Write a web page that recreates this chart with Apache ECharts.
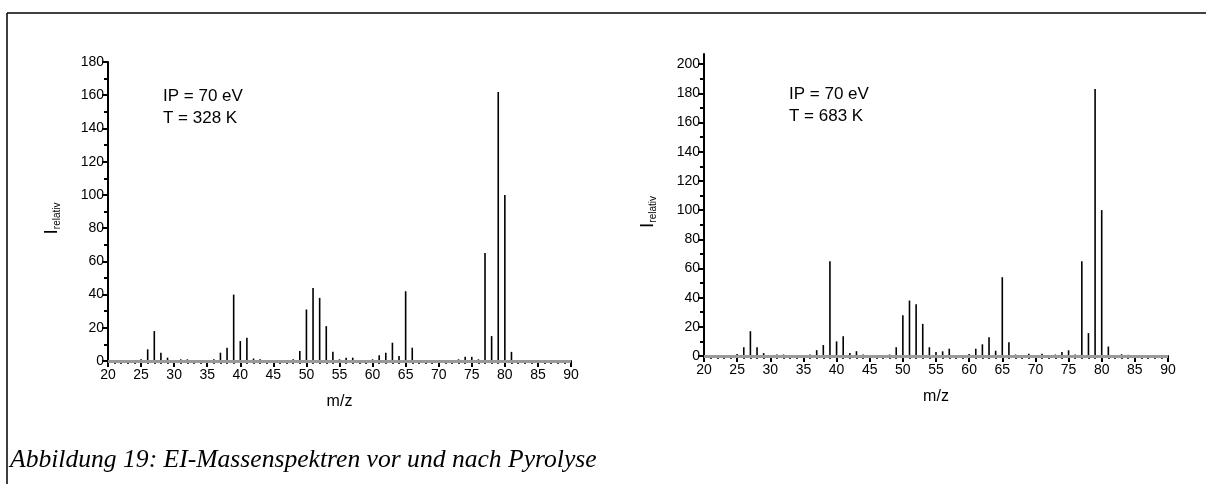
<!DOCTYPE html>
<html>
<head>
<meta charset="utf-8">
<script src="https://cdn.jsdelivr.net/npm/echarts@6/dist/echarts.min.js"></script>
<style>
html,body{margin:0;padding:0;background:#fff;}
#c{width:1206px;height:484px;}
</style>
</head>
<body>
<div id="c"></div>
<script>
// ---- data (m/z and relative intensity) ----
const mzBefore  = [25,26,27,28,29,31,32,36,37,38,39,40,41,42,43,48,49,50,51,52,53,54,55,56,57,60,61,62,63,64,65,66,67,73,74,75,76,77,78,79,80,81,82,84,86];
const intBefore = [1,7,18,5,2,1,1,1,5,8,40,12,14,1.5,1,1,6,31,44,38,21,5.5,1,2,2,1,3.5,5,11,3,42,8,0.5,1,2.5,2.5,1,65,15,162,100,5.5,0.5,0.5,0.5];

const mzAfter  = [24,25,26,27,28,29,31,32,36,37,38,39,40,41,42,43,44,45,47,48,49,50,51,52,53,54,55,56,57,58,59,60,61,62,63,64,65,66,67,69,71,73,74,75,76,77,78,79,80,81,83,84,85,86,87];
const intAfter = [0.5,1.4,6,17,6,2,1,1,1,4,7.5,65,10,13.5,2,3.3,1,0.5,0.5,1,6,28,38,35.5,22,6,2.7,3.2,5,0.5,0.5,1.4,5,8,12.8,3.6,54,9.4,1,1.5,1.5,1,2.7,3.9,1,65,15.7,183,100,6.5,1.2,0.8,0.7,0.5,0.5];

const xTicks = [20,25,30,35,40,45,50,55,60,65,70,75,80,85,90];
const yTicksBefore = [0,20,40,60,80,100,120,140,160,180];
const yTicksAfter = [0,20,40,60,80,100,120,140,160,180,200];
const yMinorAfter = [10,30,50,70,90,110,130,150,170,190];

const textBefore = ['IP = 70 eV', 'T = 328 K'];
const textAfter  = ['IP = 70 eV', 'T = 683 K'];
const caption = 'Abbildung 19: EI-Massenspektren vor und nach Pyrolyse';

function pairs(xs, ys){ return xs.map((x,i)=>[x, ys[i]]); }

const FONT = 'Liberation Sans, Arial, sans-serif';

function xAxisCfg(gi){
  return {
    type:'value', gridIndex:gi, min:20, max:90, interval:5,
    name:'m/z', nameLocation:'middle', nameGap:33,
    nameTextStyle:{fontFamily:FONT, fontSize:16, color:'#000'},
    axisLine:{show:true, onZero:false, lineStyle:{color:'#000', width:2}},
    axisTick:{show:true, length:6, lineStyle:{color:'#000', width:2}},
    minorTick:{show:true, splitNumber:5, length:3, lineStyle:{color:'#000', width:1.5}},
    axisLabel:{fontFamily:FONT, fontSize:14, color:'#000', margin:7},
    splitLine:{show:false}
  };
}
function yNameStyle(){
  return {
    fontFamily:FONT, color:'#000',
    rich:{
      i:{fontFamily:FONT, fontSize:19, color:'#000'},
      s:{fontFamily:FONT, fontSize:10, color:'#000', padding:[10,14,0,0]}
    }
  };
}

const baseLine = {
  silent:true, symbol:'none', label:{show:false},
  lineStyle:{color:'#9a9a9a', width:3, type:'solid'},
  data:[{yAxis:0}]
};

const option = {
  backgroundColor:'#fff',
  animation:false,
  grid:[
    {left:108, width:463, top:62, height:299, outerBoundsMode:'none', containLabel:false},
    {left:704, width:464, top:54, height:302, outerBoundsMode:'none', containLabel:false}
  ],
  xAxis:[xAxisCfg(0), xAxisCfg(1)],
  yAxis:[
    {
      type:'value', gridIndex:0, min:0, max:180, interval:20,
      name:'{i|I}{s|relativ}', nameLocation:'middle', nameGap:46, nameRotate:90,
      nameTextStyle:yNameStyle(),
      axisLine:{show:true, lineStyle:{color:'#000', width:2}},
      axisTick:{show:true, length:6, lineStyle:{color:'#000', width:2}},
      minorTick:{show:true, splitNumber:2, length:4, lineStyle:{color:'#000', width:2}},
      axisLabel:{fontFamily:FONT, fontSize:14, color:'#000', margin:4},
      splitLine:{show:false}
    },
    {
      type:'value', gridIndex:1, min:0, max:207, position:'left',
      name:'{i|I}{s|relativ}', nameLocation:'middle', nameGap:46, nameRotate:90,
      nameTextStyle:yNameStyle(),
      axisLine:{show:true, lineStyle:{color:'#000', width:2}},
      axisTick:{show:true, length:6, customValues:yTicksAfter, lineStyle:{color:'#000', width:2}},
      axisLabel:{fontFamily:FONT, fontSize:14, color:'#000', margin:4, customValues:yTicksAfter},
      splitLine:{show:false}
    },
    {
      type:'value', gridIndex:1, min:0, max:207, position:'left',
      axisLine:{show:false},
      axisTick:{show:true, length:4, customValues:yMinorAfter, lineStyle:{color:'#000', width:2}},
      axisLabel:{show:false},
      splitLine:{show:false}
    }
  ],
  series:[
    {
      type:'bar', xAxisIndex:0, yAxisIndex:0, barWidth:1.6,
      itemStyle:{color:'#000'},
      data:pairs(mzBefore, intBefore),
      markLine:baseLine, z:3
    },
    {
      type:'bar', xAxisIndex:1, yAxisIndex:1, barWidth:1.6,
      itemStyle:{color:'#000'},
      data:pairs(mzAfter, intAfter),
      markLine:baseLine, z:3
    }
  ],
  graphic:[
    {type:'line', shape:{x1:7, y1:13, x2:1206, y2:13}, style:{stroke:'#000', lineWidth:1.5}},
    {type:'line', shape:{x1:7, y1:13, x2:7, y2:484}, style:{stroke:'#000', lineWidth:1.5}},
    {type:'text', left:163, top:88, style:{text:textBefore[0], font:'17px '+FONT, fill:'#000'}},
    {type:'text', left:163, top:110, style:{text:textBefore[1], font:'17px '+FONT, fill:'#000'}},
    {type:'text', left:789, top:86, style:{text:textAfter[0], font:'17px '+FONT, fill:'#000'}},
    {type:'text', left:789, top:108, style:{text:textAfter[1], font:'17px '+FONT, fill:'#000'}},
    {type:'text', left:10, top:447, style:{text:caption, font:'italic 25.6px "Liberation Serif", "Times New Roman", serif', fill:'#000'}}
  ]
};

const chart = echarts.init(document.getElementById('c'), null, {renderer:'canvas'});
chart.setOption(option);
</script>
</body>
</html>
